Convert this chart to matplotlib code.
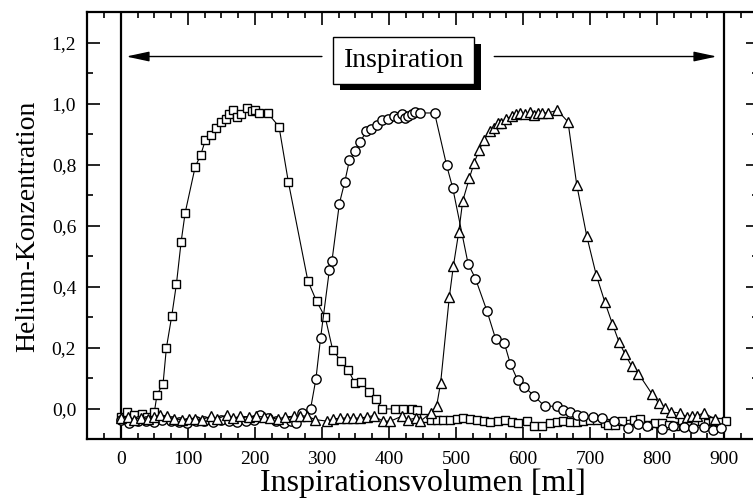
import numpy as np
import matplotlib
matplotlib.use("Agg")
import matplotlib.pyplot as plt
from matplotlib.ticker import MultipleLocator, FuncFormatter
import matplotlib.patheffects as pe

plt.rcParams['font.family'] = ['Liberation Serif', 'DejaVu Serif']

# Messreihe 1 (Quadrate)
sq_x = [0, 9, 19, 32, 39, 50, 54, 63, 68, 76, 83, 90, 96, 111, 119, 126, 134, 142,
        150, 157, 161, 168, 174, 180, 188, 196, 200, 206, 219, 236, 250, 279, 292,
        305, 316, 328, 339, 349, 359, 370, 380, 390, 409, 421, 434, 442,
        452, 462, 472, 481, 491, 501, 511, 521, 531, 541, 551, 563, 573, 583, 593,
        606, 616, 628, 640, 650, 660, 670, 680, 690, 700, 710, 722, 727, 737, 747,
        765, 775, 787, 797, 807, 817, 827, 837, 847, 857, 867, 876, 884, 894, 903]
sq_y = [-0.027, -0.011, -0.019, -0.015, -0.026, -0.011, 0.047, 0.082, 0.20, 0.305,
        0.41, 0.548, 0.643, 0.794, 0.831, 0.88, 0.899, 0.921,
        0.94, 0.951, 0.965, 0.981, 0.957, 0.968, 0.987, 0.976, 0.98, 0.97, 0.97,
        0.925, 0.743, 0.42, 0.353, 0.30, 0.194, 0.158, 0.129, 0.085, 0.088, 0.056,
        0.034, 0.0, 0.0, 0.0, 0.0, -0.002,
        -0.03, -0.035, -0.035, -0.035, -0.035, -0.033, -0.03, -0.034, -0.035, -0.038,
        -0.044, -0.04, -0.037, -0.044, -0.046,
        -0.04, -0.055, -0.055, -0.045, -0.044, -0.04, -0.044, -0.042, -0.04, -0.037,
        -0.037, -0.046, -0.051, -0.051, -0.04,
        -0.035, -0.033, -0.051, -0.046, -0.046, -0.051, -0.057, -0.035, -0.04,
        -0.04, -0.04, -0.045, -0.04, -0.042, -0.04]

# Messreihe 2 (Kreise)
ci_x = [0, 12, 25, 37, 50, 62, 75, 87, 99, 112, 124, 137, 149, 161, 174, 186, 198,
        208, 220, 232, 243, 254, 262, 270, 283, 291, 298, 311, 315, 326, 334, 341,
        350, 357, 366, 373, 382, 390, 398, 407, 414, 419, 424, 429, 434, 439, 446,
        468, 486, 495, 518, 529, 546, 559, 572, 581, 592, 602, 616, 632, 650, 660,
        670, 680, 690, 705, 717, 735, 757, 771, 785, 807, 824, 840, 854, 870, 884, 895]
ci_y = [-0.035, -0.046, -0.04, -0.038, -0.042, -0.035, -0.04, -0.044, -0.046, -0.04,
        -0.038, -0.042, -0.035, -0.04, -0.044, -0.038, -0.035, -0.019, -0.03, -0.04,
        -0.046, -0.04, -0.046, -0.013, 0.0, 0.098, 0.233, 0.454, 0.486, 0.673, 0.744,
        0.815, 0.845, 0.874, 0.91, 0.916, 0.929, 0.948, 0.951, 0.96, 0.954, 0.965,
        0.954, 0.96, 0.965, 0.972, 0.97,
        0.97, 0.798, 0.725, 0.476, 0.427, 0.322, 0.23, 0.216, 0.148, 0.094, 0.072,
        0.044, 0.009, 0.009, -0.005, -0.011, -0.019, -0.022, -0.026, -0.03, -0.04,
        -0.062, -0.05, -0.055, -0.066, -0.057, -0.06, -0.062, -0.058, -0.07, -0.062]

# Messreihe 3 (Dreiecke)
tr_x = [0, 10, 20, 30, 40, 50, 59, 69, 79, 91, 101, 111, 121, 134, 144, 158, 168,
        178, 191, 201, 213, 223, 235, 245, 258, 268, 278, 290, 308, 317, 327, 337,
        347, 357, 367, 377, 391, 402, 419, 429, 440, 447, 462, 471, 477, 490, 496,
        504, 510, 520, 527, 535, 542, 550, 556, 563, 567, 575, 583, 590, 596, 603,
        610, 616, 622, 628, 637, 651, 667, 680, 695, 709, 722, 733, 743, 752, 762,
        772, 792, 802, 812, 821, 834, 844, 852, 859, 870, 886]
tr_y = [-0.03, -0.025, -0.035, -0.028, -0.032, -0.026, -0.019, -0.024, -0.033,
        -0.035, -0.033, -0.033, -0.035, -0.024, -0.033, -0.019, -0.03, -0.024, -0.026,
        -0.024, -0.026, -0.03, -0.033, -0.026, -0.024, -0.022, -0.024, -0.035, -0.04,
        -0.033, -0.03, -0.03, -0.03, -0.03, -0.026, -0.022, -0.04, -0.04, -0.024,
        -0.035, -0.03, -0.04, -0.013, 0.009, 0.085, 0.367, 0.468, 0.579, 0.682,
        0.757, 0.807, 0.85, 0.883, 0.91, 0.921, 0.938, 0.938, 0.95, 0.96, 0.967,
        0.97, 0.965, 0.972, 0.962, 0.97, 0.97, 0.97, 0.979, 0.941, 0.735, 0.566,
        0.44, 0.35, 0.28, 0.22, 0.18, 0.14, 0.116, 0.05, 0.02, 0.003, -0.01,
        -0.013, -0.026, -0.022, -0.022, -0.013, -0.033]

x_major = np.arange(0, 901, 100)
y_major = np.arange(0.0, 1.21, 0.2)

fig = plt.figure(figsize=(7.53, 5.01), dpi=100)
# rechte Achse liegt knapp ausserhalb des Bildes
ax = fig.add_axes([0.1159, 0.1228, 0.8904, 0.8527])

line_kw = dict(color='black', lw=0.8, mfc='white', mec='black', mew=1.0)
ax.plot(sq_x, sq_y, marker='s', ms=6.4, **line_kw, zorder=3)
ax.plot(ci_x, ci_y, marker='o', ms=6.7, **line_kw, zorder=3)
ax.plot(tr_x, tr_y, marker='^', ms=7.7, **line_kw, zorder=3)

ax.axvline(0, color='black', lw=1.6, zorder=2)
ax.axvline(900, color='black', lw=1.6, zorder=2)

ax.set_xlim(-50, 950)
ax.set_ylim(-0.1, 1.3)
ax.xaxis.set_minor_locator(MultipleLocator(25))
ax.yaxis.set_minor_locator(MultipleLocator(0.1))
ax.set_xticks(x_major)
ax.set_yticks(y_major)
ax.yaxis.set_major_formatter(FuncFormatter(lambda v, p: f"{v:.1f}".replace('.', ',')))
ax.tick_params(which='both', direction='in', top=True, right=True, width=1.2,
               labelsize=14, pad=8)
ax.tick_params(which='major', length=9)
ax.tick_params(which='minor', length=4.5)
for s in ax.spines.values():
    s.set_linewidth(1.6)

ax.set_xlabel('Inspirationsvolumen [ml]', fontsize=23, labelpad=1)
ax.set_ylabel('Helium-Konzentration', fontsize=20, labelpad=8)

# Pfeile fuer die Inspirationsphase
arrow_kw = dict(arrowstyle='-|>,head_length=1.4,head_width=0.3', color='black',
                lw=1.0, mutation_scale=10, shrinkA=0, shrinkB=0)
ax.annotate('', xy=(8, 1.155), xytext=(300, 1.155), arrowprops=arrow_kw)
ax.annotate('', xy=(889, 1.155), xytext=(557, 1.155), arrowprops=arrow_kw)

t = ax.text(422, 1.142, 'Inspiration', fontsize=20, ha='center', va='center',
            bbox=dict(boxstyle='square,pad=0.38', fc='white', ec='black', lw=1.0),
            zorder=5)
t.get_bbox_patch().set_path_effects([
    pe.SimplePatchShadow(offset=(5, -5), shadow_rgbFace='black', alpha=1.0),
    pe.Normal()])

fig.savefig('out.png', dpi=100)
